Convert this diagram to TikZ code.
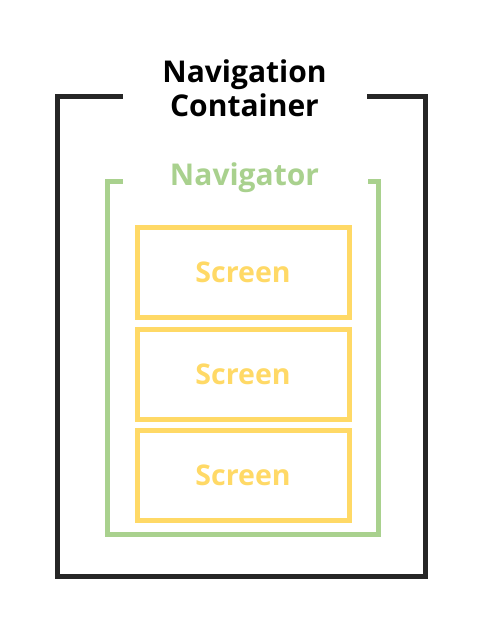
\documentclass[tikz,border=0pt]{standalone}
\usepackage{fontspec}
\setmainfont{Open Sans}
\usepackage{tikz}
\definecolor{frameblack}{HTML}{262626}
\definecolor{navgreen}{HTML}{A9D18E}
\definecolor{screenyellow}{HTML}{FFD966}
\tikzset{
	screenbox/.style={draw=screenyellow, line width=5pt, minimum width=212pt, minimum height=90pt, text=screenyellow, font=\fontsize{28.5}{34}\selectfont\bfseries},
	title/.style={font=\fontsize{30}{34}\selectfont\bfseries, align=center, anchor=base}
}

\begin{document}
\begin{tikzpicture}[x=1pt, y=-1pt]
		%%%%% START %%%%%
		\useasboundingbox (0, 0) rectangle (484, 622);
		
		\draw[line width=5pt, color=frameblack] (122.7, 96.5) -- (57.5, 96.5) -- (57.5, 576.5) -- (425, 576.5) -- (425, 96.5) -- (366.7, 96.5);
		\node[title, text=black] (container) at (244.5, 116) {Navigation\\Container};
		
		\draw[line width=5pt, color=navgreen] (122.7, 181) -- (107.5, 181) -- (107.5, 534.5) -- (378.5, 534.5) -- (378.5, 181) -- (367.7, 181);
		\node[title, text=navgreen] (navigator) at (244.5, 185.7) {Navigator};
		
		\node[screenbox] (screen1) at (243, 272.5) {Screen};
		\node[screenbox] (screen2) at (243, 374.7) {Screen};
		\node[screenbox] (screen3) at (243, 475) {Screen};
		%%%%% END %%%%%
	\end{tikzpicture}
\end{document}
